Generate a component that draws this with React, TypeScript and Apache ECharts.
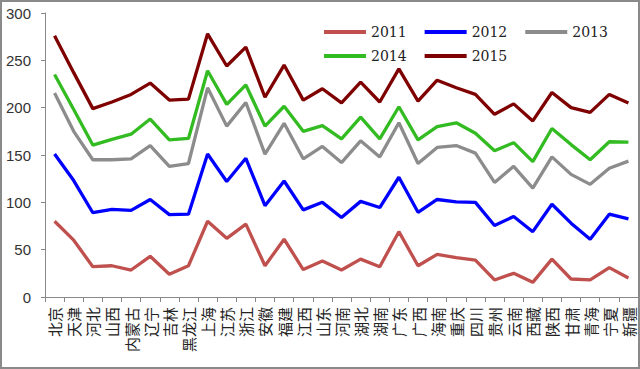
import React, { useEffect, useRef } from "react";
import * as echarts from "echarts";

const provinces = [
  "北京", "天津", "河北", "山西", "内蒙古", "辽宁", "吉林", "黑龙江", "上海", "江苏",
  "浙江", "安徽", "福建", "江西", "山东", "河南", "湖北", "湖南", "广东", "广西",
  "海南", "重庆", "四川", "贵州", "云南", "西藏", "陕西", "甘肃", "青海", "宁夏", "新疆",
];

const years = ["2011", "2012", "2013", "2014", "2015"];

const v2011 = [80, 60, 32, 33, 28.5, 43, 24, 33, 80, 62, 77, 33, 61, 29, 38, 28.5, 40, 32, 69, 33, 45, 41.5, 39, 18, 25, 15.5, 40, 19, 18, 31, 20];
const v2012 = [151, 123, 89, 92.5, 91.5, 103, 87, 87.5, 151, 122, 146.5, 96.5, 122.5, 92, 100, 84, 101, 94.5, 126.5, 89.5, 103, 100.5, 100, 75.5, 85, 69, 98, 78, 61, 87.5, 82.5];
const v2013 = [215.5, 175, 145, 145, 146, 160, 138, 141, 221, 180.5, 205.5, 151, 183.5, 146, 159, 142, 165, 148, 184, 141, 158, 160, 152, 121, 138, 115, 148, 129.5, 119, 136, 143.5];
const v2014 = [235, 198, 160.5, 166.5, 172, 188, 166, 167.5, 239, 203.5, 224, 180.5, 201.5, 175, 181, 167, 190, 167, 201, 166, 180, 184, 173, 154.5, 163, 143, 178, 161, 145, 164, 163.5];
const v2015 = [276, 237, 199, 206, 214, 226, 208, 209, 278, 244, 264, 211, 245, 208, 220, 205, 227, 206, 241, 207, 229, 221, 214, 193, 204, 186, 216, 200, 195, 214, 205];

const yTicks = [0, 50, 100, 150, 200, 250, 300];

const colors = ["#C0504D", "#0000FF", "#8C8C8C", "#33BB22", "#7F0000"];
const seriesValues = [v2011, v2012, v2013, v2014, v2015];

export default function App() {
  const ref = useRef<HTMLDivElement>(null);
  useEffect(() => {
    if (!ref.current) return;
    const chart = echarts.init(ref.current, null, { renderer: "svg" });
    const legendText = {
      fontFamily: "DejaVu Serif",
      fontSize: 14,
      color: "#222",
    };
    chart.setOption({
      animation: false,
      backgroundColor: "#fff",
      graphic: [
        {
          type: "rect",
          shape: { x: 1, y: 1, width: 638, height: 367 },
          style: { fill: "none", stroke: "#8a8a8a", lineWidth: 2 },
          z: 100,
        },
      ],
      legend: [
        {
          data: years.slice(0, 3),
          left: 319,
          top: 20,
          icon: "rect",
          itemWidth: 42,
          itemHeight: 4,
          itemGap: 18,
          textStyle: legendText,
        },
        {
          data: years.slice(3),
          left: 319,
          top: 44,
          icon: "rect",
          itemWidth: 42,
          itemHeight: 4,
          itemGap: 18,
          textStyle: legendText,
        },
      ],
      grid: { left: 45, right: 2, top: 13, bottom: 72, containLabel: false },
      xAxis: {
        type: "category",
        data: provinces,
        boundaryGap: true,
        axisLine: { lineStyle: { color: "#888", width: 1 } },
        axisTick: { show: true, length: 5, lineStyle: { color: "#888" } },
        axisLabel: {
          interval: 0,
          rotate: 90,
          margin: 10,
          fontSize: 15,
          color: "#222",
          fontFamily: "Noto Sans CJK SC",
        },
        splitLine: { show: false },
      },
      yAxis: {
        type: "value",
        min: yTicks[0],
        max: yTicks[yTicks.length - 1],
        interval: 50,
        axisLine: { show: true, lineStyle: { color: "#888", width: 1 } },
        axisTick: { show: true, length: 4, lineStyle: { color: "#888" } },
        axisLabel: {
          margin: 14,
          fontSize: 15,
          color: "#333",
          fontFamily: "Liberation Sans",
        },
        splitLine: { show: false },
      },
      series: years.map((y, i) => ({
        name: y,
        type: "line",
        data: seriesValues[i],
        symbol: "none",
        color: colors[i],
        lineStyle: { width: 3.3, color: colors[i] },
        z: 10 - i,
      })),
    });
    return () => chart.dispose();
  }, []);
  return (
    <div
      ref={ref}
      style={{ position: "absolute", left: 0, top: 0, width: 640, height: 369 }}
    />
  );
}
